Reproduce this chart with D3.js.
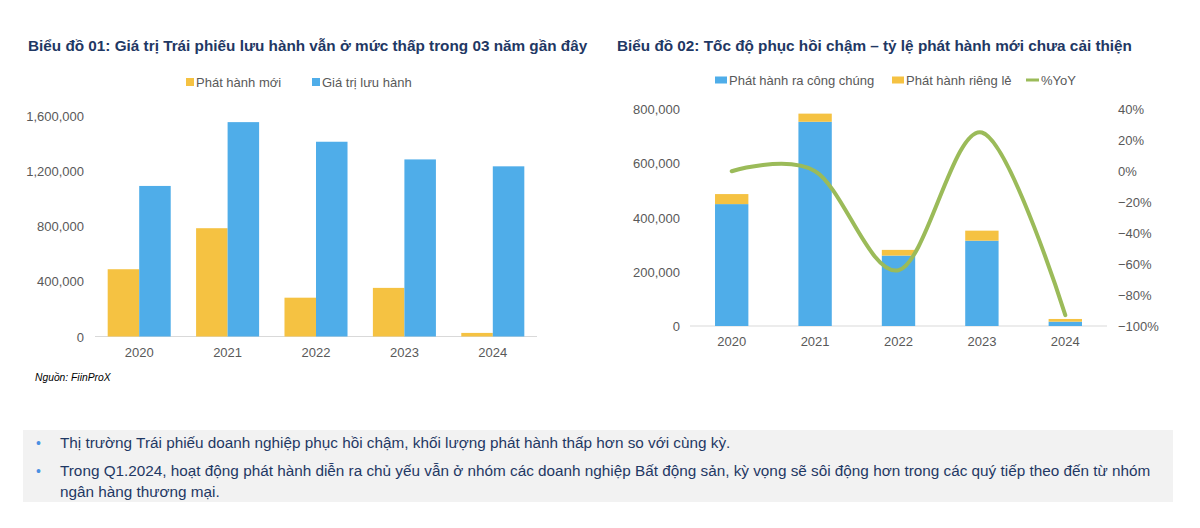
<!DOCTYPE html>
<html>
<head>
<meta charset="utf-8">
<script src="https://cdn.jsdelivr.net/npm/d3@7"></script>
<style>
  body { margin:0; background:#fff; }
  svg { display:block; font-family:"Liberation Sans", Arial, sans-serif; }
</style>
</head>
<body>
<svg width="1200" height="528"></svg>
<script>
var years = ["2020", "2021", "2022", "2023", "2024"];

// chart 01
var newIssue = [487000, 784000, 281000, 352000, 26000];
var outstanding = [1090000, 1552000, 1410000, 1282000, 1232000];
var leftTicks = [0, 400000, 800000, 1200000, 1600000];

// chart 02
var publicIssue = [450000, 754000, 260000, 315000, 16000];
var privateIssue = [37000, 30000, 21000, 37000, 10000];
var yoy = [0, 0, -0.64, 0.25, -0.93];
var rightTicks = [0, 200000, 400000, 600000, 800000];
var pctTicks = [-1, -0.8, -0.6, -0.4, -0.2, 0, 0.2, 0.4];

var notes = [
  ["Thị trường Trái phiếu doanh nghiệp phục hồi chậm, khối lượng phát hành thấp hơn so với cùng kỳ."],
  ["Trong Q1.2024, hoạt động phát hành diễn ra chủ yếu vẫn ở nhóm các doanh nghiệp Bất động sản, kỳ vọng sẽ sôi động hơn trong các quý tiếp theo đến từ nhóm",
   "ngân hàng thương mại."]
];

var orange = "#F5C242", blue = "#4FADE9", green = "#9BBB59";
var navy = "#1F3864", grey = "#595959";
var fmt = d3.format(",");

var svg = d3.select("svg");

function title(x, t){
  svg.append("text").attr("x", x).attr("y", 51)
    .attr("font-size", "15.3px").attr("font-weight", "bold")
    .attr("fill", navy).text(t);
}

function legendBox(x, y, w, h, col, label){
  svg.append("rect").attr("x", x).attr("y", y - h/2).attr("width", w).attr("height", h).attr("fill", col);
  svg.append("text").attr("x", x + w + 2).attr("y", y + 4.5)
    .attr("font-size", "13px").attr("fill", grey).text(label);
}

function drawLeft(){
  title(28, "Biểu đồ 01: Giá trị Trái phiếu lưu hành vẫn ở mức thấp trong 03 năm gần đây");
  legendBox(186, 82, 8, 8, orange, "Phát hành mới");
  legendBox(312, 82, 8, 8, blue, "Giá trị lưu hành");

  var x = d3.scaleBand().domain(years).range([95, 537]).paddingInner(0.287).paddingOuter(0.1435);
  var xs = d3.scaleBand().domain([0, 1]).range([0, x.bandwidth()]);
  var y = d3.scaleLinear().domain([0, 1600000]).range([336.5, 115.5]);

  svg.append("line").attr("x1", 95).attr("x2", 537).attr("y1", y(0)).attr("y2", y(0))
    .attr("stroke", "#D9D9D9").attr("stroke-width", 1);

  var g = svg.append("g");
  g.selectAll("rect.n").data(newIssue).enter().append("rect")
    .attr("x", function(d, i){ return x(years[i]) + xs(0); })
    .attr("y", function(d){ return y(d); })
    .attr("width", xs.bandwidth())
    .attr("height", function(d){ return y(0) - y(d); })
    .attr("fill", orange);
  g.selectAll("rect.o").data(outstanding).enter().append("rect")
    .attr("x", function(d, i){ return x(years[i]) + xs(1); })
    .attr("y", function(d){ return y(d); })
    .attr("width", xs.bandwidth())
    .attr("height", function(d){ return y(0) - y(d); })
    .attr("fill", blue);

  svg.selectAll("text.ly").data(leftTicks).enter().append("text")
    .attr("x", 84).attr("y", function(d){ return y(d) + 5; })
    .attr("text-anchor", "end").attr("font-size", "13px").attr("fill", grey)
    .text(function(d){ return fmt(d); });

  svg.selectAll("text.lx").data(years).enter().append("text")
    .attr("x", function(d){ return x(d) + x.bandwidth()/2; })
    .attr("y", 357).attr("text-anchor", "middle")
    .attr("font-size", "13px").attr("fill", grey).text(function(d){ return d; });

  svg.append("text").attr("x", 35).attr("y", 381)
    .attr("font-size", "10.3px").attr("font-style", "italic").attr("fill", "#000")
    .text("Nguồn: FiinProX");
}

function drawRight(){
  title(617, "Biểu đồ 02: Tốc độ phục hồi chậm – tỷ lệ phát hành mới chưa cải thiện");
  legendBox(715, 80, 12, 7, blue, "Phát hành ra công chúng");
  legendBox(892, 80, 12, 7, orange, "Phát hành riêng lẻ");
  svg.append("line").attr("x1", 1026).attr("x2", 1039).attr("y1", 80).attr("y2", 80)
    .attr("stroke", green).attr("stroke-width", 3);
  svg.append("text").attr("x", 1041).attr("y", 84.5)
    .attr("font-size", "13px").attr("fill", grey).text("%YoY");

  var x = d3.scaleBand().domain(years).range([690, 1107]).paddingInner(0.6).paddingOuter(0.3);
  var y = d3.scaleLinear().domain([0, 800000]).range([326, 109.3]);
  var y2 = d3.scaleLinear().domain([-1, 0.4]).range([326, 109.3]);

  svg.append("line").attr("x1", 690).attr("x2", 1107).attr("y1", y(0)).attr("y2", y(0))
    .attr("stroke", "#D9D9D9").attr("stroke-width", 1);

  var stack = d3.stack().keys(["pub", "priv"])(years.map(function(d, i){
    return { year: d, pub: publicIssue[i], priv: privateIssue[i] };
  }));
  var cols = [blue, orange];

  svg.selectAll("g.s").data(stack).enter().append("g")
    .attr("fill", function(d, i){ return cols[i]; })
    .selectAll("rect").data(function(d){ return d; }).enter().append("rect")
    .attr("x", function(d){ return x(d.data.year); })
    .attr("y", function(d){ return y(d[1]); })
    .attr("width", x.bandwidth())
    .attr("height", function(d){ return y(d[0]) - y(d[1]); });

  var line = d3.line()
    .x(function(d, i){ return x(years[i]) + x.bandwidth()/2; })
    .y(function(d){ return y2(d); })
    .curve(d3.curveCardinal.tension(0));
  svg.append("path").datum(yoy).attr("d", line)
    .attr("fill", "none").attr("stroke", green).attr("stroke-width", 4)
    .attr("stroke-linecap", "round");

  svg.selectAll("text.ry").data(rightTicks).enter().append("text")
    .attr("x", 680).attr("y", function(d){ return y(d) + 5; })
    .attr("text-anchor", "end").attr("font-size", "13px").attr("fill", grey)
    .text(function(d){ return fmt(d); });

  svg.selectAll("text.rp").data(pctTicks).enter().append("text")
    .attr("x", 1118).attr("y", function(d){ return y2(d) + 5; })
    .attr("font-size", "13px").attr("fill", grey)
    .text(function(d){ return d3.format(".0%")(d); });

  svg.selectAll("text.rx").data(years).enter().append("text")
    .attr("x", function(d){ return x(d) + x.bandwidth()/2; })
    .attr("y", 346).attr("text-anchor", "middle")
    .attr("font-size", "13px").attr("fill", grey).text(function(d){ return d; });
}

function drawNotes(){
  svg.append("rect").attr("x", 23).attr("y", 430).attr("width", 1150).attr("height", 72).attr("fill", "#F2F2F2");
  var ys = [[448], [476, 496.5]];
  notes.forEach(function(lines, i){
    svg.append("text").attr("x", 36).attr("y", ys[i][0])
      .attr("font-size", "14px").attr("fill", "#4A90E2").text("•");
    lines.forEach(function(t, j){
      svg.append("text").attr("x", 60).attr("y", ys[i][j])
        .attr("font-size", "15.3px").attr("fill", navy).text(t);
    });
  });
}

drawLeft();
drawRight();
drawNotes();
</script>
</body>
</html>
